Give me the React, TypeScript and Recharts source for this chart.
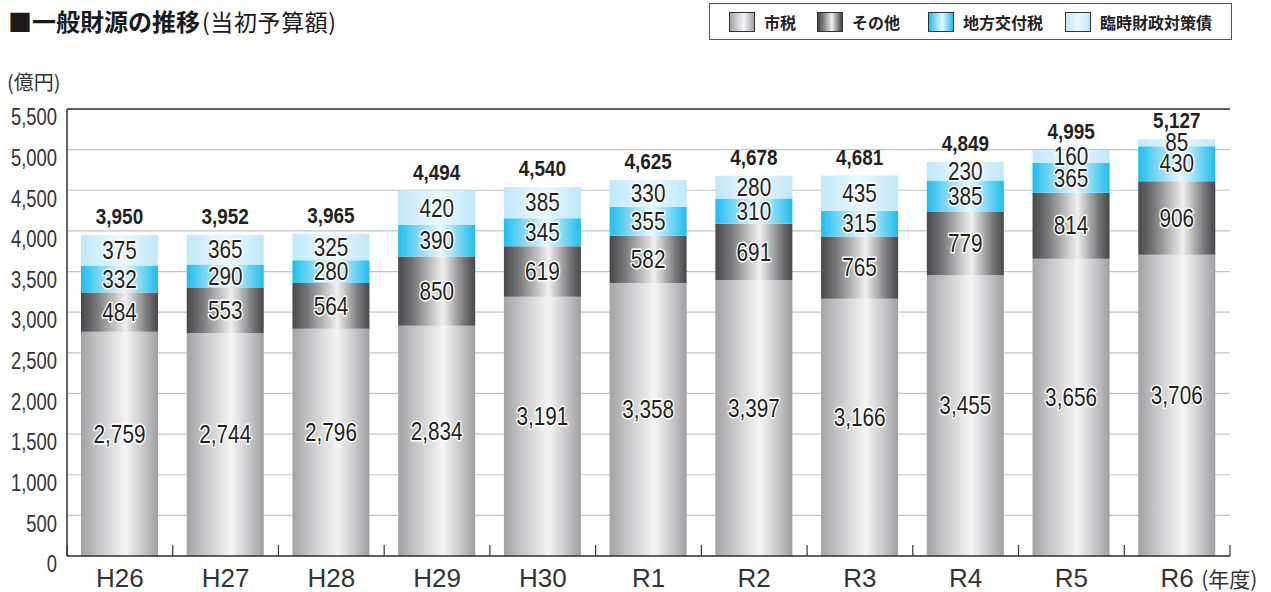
import React from 'react';
import { BarChart, Bar, XAxis, YAxis, CartesianGrid, ReferenceLine, LabelList } from 'recharts';

// ---- data ----
const categories = ['H26', 'H27', 'H28', 'H29', 'H30', 'R1', 'R2', 'R3', 'R4', 'R5', 'R6'];
const cityTax = [2759, 2744, 2796, 2834, 3191, 3358, 3397, 3166, 3455, 3656, 3706];
const others = [484, 553, 564, 850, 619, 582, 691, 765, 779, 814, 906];
const allocationTax = [332, 290, 280, 390, 345, 355, 310, 315, 385, 365, 430];
const specialBonds = [375, 365, 325, 420, 385, 330, 280, 435, 230, 160, 85];
const totals = [3950, 3952, 3965, 4494, 4540, 4625, 4678, 4681, 4849, 4995, 5127];
const yTicks = [0, 500, 1000, 1500, 2000, 2500, 3000, 3500, 4000, 4500, 5000, 5500];
const seriesKeys = ['city', 'other', 'alloc', 'bond'];
const seriesNames = ['市税', 'その他', '地方交付税', '臨時財政対策債'];

const data = categories.map((c, i) => ({
  name: c,
  city: cityTax[i],
  other: others[i],
  alloc: allocationTax[i],
  bond: specialBonds[i],
  total: totals[i],
}));

// ---- styles ----
const gradientStops: Record<string, [number, string][]> = {
  city: [[0, '#a2a2a4'], [0.2, '#c2c2c4'], [0.58, '#f5f5f5'], [0.85, '#c0c0c2'], [1, '#9f9fa1']],
  other: [[0, '#48484a'], [0.2, '#78787a'], [0.58, '#f0f0f0'], [0.85, '#7a7a7c'], [1, '#48484a']],
  alloc: [[0, '#1cbeee'], [0.22, '#74d5f4'], [0.55, '#e6f8fd'], [0.8, '#76d6f4'], [1, '#1cbeee']],
  bond: [[0, '#c0e8f9'], [0.5, '#eaf8fe'], [1, '#c0e8f9']],
};
const legendX = [729, 817, 928, 1065];
const SANS = "'Liberation Sans', Arial, sans-serif";
const JP = "'Noto Sans CJK JP', sans-serif";

const fmt = (v: number) => v.toLocaleString('en-US');

const cssGradient = (k: string) =>
  `linear-gradient(to right, ${gradientStops[k].map(([o, c]) => `${c} ${o * 100}%`).join(', ')})`;

// narrow text: Liberation Sans horizontally condensed
const NarrowText = ({ x, y, sx, children, anchor = 'middle', baseline = 'central', ...rest }: any) => (
  <text
    transform={`translate(${x},${y}) scale(${sx},1)`}
    x={0}
    y={0}
    textAnchor={anchor}
    dominantBaseline={baseline}
    fontFamily={SANS}
    {...rest}
  >
    {children}
  </text>
);

const segLabel = (dy: number) => (props: any) => {
  const vb = props.viewBox || props;
  const { x, y, width, height } = vb;
  return (
    <NarrowText
      x={x + width / 2}
      y={y + height / 2 + dy}
      sx={0.83}
      fontSize={25}
      fill="#231f20"
      stroke="#ffffff"
      strokeWidth={3}
      strokeLinejoin="round"
      paintOrder="stroke"
    >
      {fmt(props.value)}
    </NarrowText>
  );
};

const totalLabel = (props: any) => {
  const vb = props.viewBox || props;
  const { x, y, width } = vb;
  return (
    <NarrowText
      x={x + width / 2}
      y={y - 11}
      sx={0.86}
      baseline="auto"
      fontWeight="bold"
      fontSize={22}
      fill="#231f20"
    >
      {fmt(props.value)}
    </NarrowText>
  );
};

const XTick = (props: any) => {
  const { x, y, payload, index } = props;
  const half = payload && typeof payload.offset === 'number' ? payload.offset : 0;
  const last = index === categories.length - 1;
  return (
    <g>
      {index === 0 && half > 0 && (
        <line x1={x - half} x2={x - half} y1={y} y2={y - 11} stroke="#333" strokeWidth={1.2} />
      )}
      {half > 0 && <line x1={x + half} x2={x + half} y1={y} y2={y - 11} stroke="#333" strokeWidth={1.2} />}
      <text x={x} y={y + 22} textAnchor="middle" dominantBaseline="central" fontFamily={SANS} fontSize={26} fill="#333">
        {payload.value}
      </text>
      {last && (
        <text x={x + 24} y={y + 22} dominantBaseline="central" fontFamily={JP} fontSize={21} fill="#333">
          (年度)
        </text>
      )}
    </g>
  );
};

const YTick = (props: any) => {
  const { x, y, payload } = props;
  return (
    <NarrowText x={x} y={y + 8} sx={0.8} anchor="end" fontSize={23} fill="#333">
      {fmt(payload.value)}
    </NarrowText>
  );
};

export default function App() {
  return (
    <div style={{ position: 'absolute', left: 0, top: 0, width: 1271, height: 592, background: '#fff', overflow: 'hidden' }}>
      <div style={{ position: 'absolute', left: 8, top: 8, whiteSpace: 'nowrap', fontFamily: JP, color: '#1a1a1a', lineHeight: '26px' }}>
        <span style={{ fontSize: 24, fontWeight: 'bold' }}>■一般財源の推移</span>
        <span style={{ fontSize: 23, marginLeft: 2, letterSpacing: 0.6 }}>(当初予算額)</span>
      </div>
      <div style={{ position: 'absolute', left: 7, top: 69, fontFamily: JP, fontSize: 20, color: '#333', lineHeight: '26px' }}>
        (億円)
      </div>
      <div style={{ position: 'absolute', left: 709, top: 3, width: 523, height: 37, border: '1px solid #555', boxSizing: 'border-box' }} />
      {seriesKeys.map((k, i) => (
        <React.Fragment key={k}>
          <div
            style={{
              position: 'absolute', left: legendX[i], top: 12, width: 26, height: 20,
              background: cssGradient(k), border: '1px solid #333', boxSizing: 'border-box',
            }}
          />
          <div
            style={{
              position: 'absolute', left: legendX[i] + 35, top: 10, fontFamily: JP, fontWeight: 'bold',
              fontSize: 16, lineHeight: '24px', color: '#222', whiteSpace: 'nowrap',
            }}
          >
            {seriesNames[i]}
          </div>
        </React.Fragment>
      ))}
      <div style={{ position: 'absolute', left: 0, top: 0 }}>
        <BarChart width={1271} height={592} data={data} margin={{ top: 109, right: 41, left: 7, bottom: 0 }}>
          <defs>
            {seriesKeys.map((k) => (
              <linearGradient key={k} id={`g-${k}`} x1="0" y1="0" x2="1" y2="0">
                {gradientStops[k].map(([o, c], j) => (
                  <stop key={j} offset={o} stopColor={c} />
                ))}
              </linearGradient>
            ))}
          </defs>
          <CartesianGrid vertical={false} stroke="#c4c4c4" strokeWidth={1.2} />
          <XAxis
            dataKey="name"
            height={36}
            tickLine={false}
            tickSize={0}
            tickMargin={0}
            axisLine={{ stroke: '#333', strokeWidth: 1.5 }}
            tick={<XTick />}
            interval={0}
          />
          <YAxis
            width={60}
            domain={[0, 5500]}
            ticks={yTicks}
            tickLine={false}
            tickSize={0}
            tickMargin={10}
            axisLine={{ stroke: '#333', strokeWidth: 1.5 }}
            tick={<YTick />}
            interval={0}
          />
          <ReferenceLine y={5500} stroke="#333" strokeWidth={1.5} />
          <Bar dataKey="city" stackId="a" barSize={77} fill="url(#g-city)" isAnimationActive={false}>
            <LabelList dataKey="city" content={segLabel(-10)} />
          </Bar>
          <Bar dataKey="other" stackId="a" barSize={77} fill="url(#g-other)" isAnimationActive={false}>
            <LabelList dataKey="other" content={segLabel(0)} />
          </Bar>
          <Bar dataKey="alloc" stackId="a" barSize={77} fill="url(#g-alloc)" isAnimationActive={false}>
            <LabelList dataKey="alloc" content={segLabel(0)} />
          </Bar>
          <Bar dataKey="bond" stackId="a" barSize={77} fill="url(#g-bond)" isAnimationActive={false}>
            <LabelList dataKey="bond" content={segLabel(0)} />
            <LabelList dataKey="total" content={totalLabel} />
          </Bar>
        </BarChart>
      </div>
    </div>
  );
}
